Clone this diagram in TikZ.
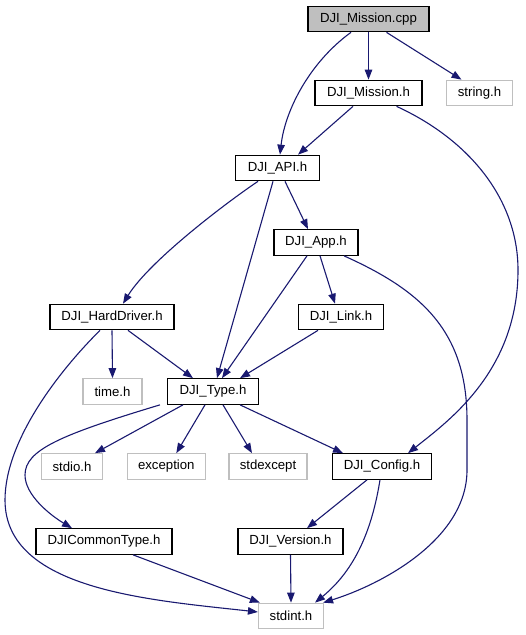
\documentclass[tikz,border=0pt]{standalone}
\usepackage{fontspec}
\setmainfont{Liberation Sans}
\usetikzlibrary{arrows.meta}
\definecolor{edgeblue}{HTML}{191970}
\definecolor{lgray}{HTML}{BFBFBF}
\begin{document}
\begin{tikzpicture}[x=1pt,y=-1pt,
  box/.style={draw=black,line width=1.2pt,inner sep=0pt,minimum height=25.5pt,font=\fontsize{13.2}{15}\selectfont},
  extbox/.style={box,draw=lgray},
  edge/.style={draw=edgeblue,line width=1.1pt,-{Triangle[length=10pt,width=7.5pt]}}]
\useasboundingbox (0,0) rectangle (526,635);
% nodes
\node[box,fill=lgray,minimum width=121pt] (cpp) at (368.5,19) {DJI\_Mission.cpp};
\node[box,minimum width=107pt] (mish) at (368.5,93) {DJI\_Mission.h};
\node[extbox,minimum width=66pt] (str) at (479.5,93) {string.h};
\node[box,minimum width=84pt] (api) at (277.5,168) {DJI\_API.h};
\node[box,minimum width=84pt] (app) at (316,242.5) {DJI\_App.h};
\node[box,minimum width=124pt] (hd) at (112,317) {DJI\_HardDriver.h};
\node[box,minimum width=85pt] (link) at (341,317) {DJI\_Link.h};
\node[extbox,minimum width=59pt] (time) at (112.5,391.5) {time.h};
\node[box,minimum width=91pt] (type) at (213,391.5) {DJI\_Type.h};
\node[extbox,minimum width=61pt] (stdio) at (72,466.5) {stdio.h};
\node[extbox,minimum width=78pt] (exc) at (166.3,466.5) {exception};
\node[extbox,minimum width=78pt] (stdexc) at (268,466.5) {stdexcept};
\node[box,minimum width=99pt] (config) at (382,466.5) {DJI\_Config.h};
\node[box,minimum width=136pt] (common) at (104,541.5) {DJICommonType.h};
\node[box,minimum width=105pt] (version) at (290.5,541.5) {DJI\_Version.h};
\node[extbox,minimum width=65pt] (stdint) at (291,616) {stdint.h};
% edges
\draw[edge] ([xshift=-17.5pt]cpp.south) .. controls (310,62) and (285,110) .. ([xshift=2.5pt]api.north);
\draw[edge] (cpp.south) -- (mish.north);
\draw[edge] ([xshift=18pt]cpp.south) -- ([xshift=-18pt]str.north);
\draw[edge] ([xshift=-15.5pt]mish.south) -- ([xshift=20.5pt]api.north);
\draw[edge] ([xshift=28pt]mish.south) .. controls (470,140) and (518,200) .. (518,270)
  .. controls (518,370) and (450,420) .. ([xshift=26pt]config.north);
\draw[edge] ([xshift=-19.5pt]api.south) .. controls (230,200) and (150,260) .. ([xshift=11pt]hd.north);
\draw[edge] ([xshift=-4.5pt]api.south) -- ([xshift=4pt]type.north);
\draw[edge] ([xshift=7.5pt]api.south) -- ([xshift=-8pt]app.north);
\draw[edge] ([xshift=-9pt]app.south) -- ([xshift=9pt]type.north);
\draw[edge] ([xshift=4pt]app.south) -- ([xshift=-6pt]link.north);
\draw[edge] ([xshift=28pt]app.south) .. controls (420,290) and (467,330) .. (467,420)
  -- (467,470) .. controls (467,540) and (380,585) .. ([xshift=-1pt]stdint.north east);
\draw[edge] ([xshift=-23pt]link.south) -- ([xshift=27pt]type.north);
\draw[edge] (hd.south) -- (time.north);
\draw[edge] ([xshift=16pt]hd.south) -- ([xshift=-20pt]type.north);
\draw[edge] ([xshift=-12pt]hd.south) .. controls (60,370) and (5,440) .. (5,500)
  .. controls (5,590) and (150,600) .. ([yshift=4pt]stdint.west);
\draw[edge] ([xshift=-30pt]type.south) -- ([xshift=23pt]stdio.north);
\draw[edge] ([xshift=-8pt]type.south) -- ([xshift=10pt]exc.north);
\draw[edge] ([xshift=10pt]type.south) -- ([xshift=-16pt]stdexc.north);
\draw[edge] ([xshift=27pt]type.south) -- ([xshift=-39pt]config.north);
\draw[edge] ([xshift=-53pt]type.south) .. controls (60,435) and (25,450) .. (25,475)
  .. controls (25,495) and (50,515) .. ([xshift=-32pt]common.north);
\draw[edge] ([xshift=-15pt]config.south) -- ([xshift=16.5pt]version.north);
\draw[edge] ([xshift=-2pt]config.south) .. controls (372,530) and (355,570) .. ([xshift=24pt]stdint.north);
\draw[edge] (version.south) -- (stdint.north);
\draw[edge] ([xshift=29pt]common.south) -- ([xshift=2pt]stdint.north west);
\end{tikzpicture}
\end{document}
